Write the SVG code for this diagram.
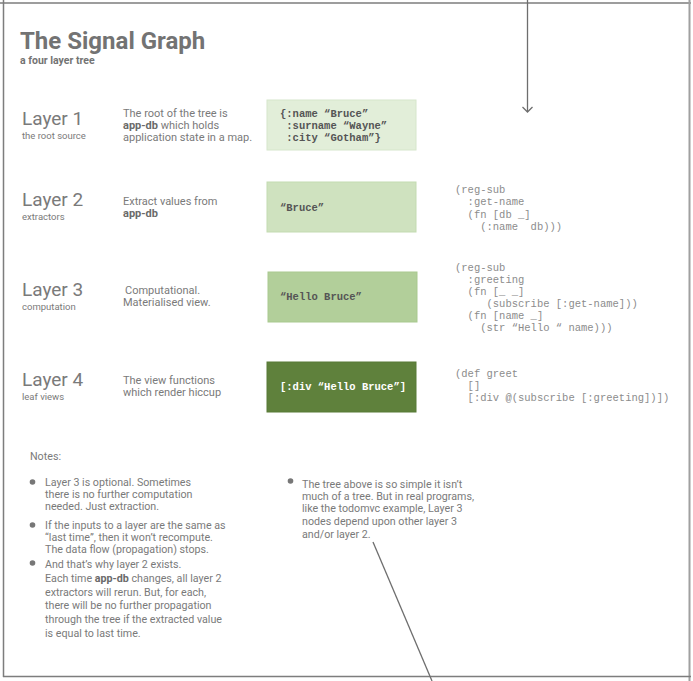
<svg xmlns="http://www.w3.org/2000/svg" width="693" height="681" viewBox="0 0 693 681">
<style>
.t{font-family:Roboto,"Liberation Sans",sans-serif;fill:#7a7a7a}
.title{font-size:24px;font-weight:bold;fill:#737373}
.sub{font-size:10.5px;font-weight:bold;fill:#737373}
.layer{font-size:19px;fill:#7a7a7a}
.lsub{font-size:9.5px}
.desc{font-size:11px}
.note{font-size:10.7px}
.b{font-weight:bold;fill:#6a6a6a}
.code{font-family:"Liberation Mono","Courier New",monospace;font-size:10.5px;font-weight:bold;fill:#555;white-space:pre}
.src{font-family:"Liberation Mono","Courier New",monospace;font-size:10.5px;fill:#8c8c8c;white-space:pre}
.frame{stroke:#7d7d7d;stroke-width:1.5;fill:none}
.conn{stroke:#6e6e6e;stroke-width:1.3;fill:none}
</style>
<defs>
<marker id="chev" markerWidth="12" markerHeight="12" refX="8" refY="6" orient="auto" markerUnits="userSpaceOnUse" viewBox="0 0 12 12">
<path d="M3,1 L8,6 L3,11" fill="none" stroke="#6e6e6e" stroke-width="1.3"/>
</marker>
</defs>
<rect width="693" height="681" fill="#ffffff"/>
<g id="frame">
<line class="frame" x1="0" y1="3" x2="691" y2="3"/>
<line class="frame" x1="3.5" y1="0" x2="3.5" y2="677"/>
<line x1="689.5" y1="0" x2="689.5" y2="681" stroke="#a0a0a0" stroke-width="2"/>
<line class="frame" x1="3" y1="676.5" x2="691" y2="676.5"/>
</g>
<g id="heading">
<text class="t title" x="20" y="49">The Signal Graph</text>
<text class="t sub" x="20" y="64">a four layer tree</text>
</g>
<g id="layer1">
<text class="t layer" x="22" y="125">Layer 1</text>
<text class="t lsub" x="22" y="139">the root source</text>
<text class="t desc" x="123" y="117">The root of the tree is</text>
<text class="t desc" x="123" y="129"><tspan class="b">app-db</tspan> which holds</text>
<text class="t desc" x="123" y="141">application state in a map.</text>
<rect x="267" y="100" width="149" height="50" fill="#e2eed9" stroke="#d6e6cb" stroke-width="1"/>
<text class="code" x="280" y="117">{:name “Bruce”</text>
<text class="code" x="280" y="129"> :surname “Wayne”</text>
<text class="code" x="280" y="141"> :city “Gotham”}</text>
</g>
<g id="layer2">
<text class="t layer" x="22" y="206">Layer 2</text>
<text class="t lsub" x="22" y="220">extractors</text>
<text class="t desc" x="123" y="205">Extract values from</text>
<text class="t desc b" x="123" y="217">app-db</text>
<rect x="267" y="182" width="149" height="50" fill="#cfe2bf" stroke="#c3dbb1" stroke-width="1"/>
<text class="code" x="280" y="211">“Bruce”</text>
<text class="src" x="455" y="193">(reg-sub</text>
<text class="src" x="455" y="205">  :get-name</text>
<text class="src" x="455" y="218">  (fn [db _]</text>
<text class="src" x="455" y="230">    (:name  db)))</text>
</g>
<g id="layer3">
<text class="t layer" x="22" y="296">Layer 3</text>
<text class="t lsub" x="22" y="310">computation</text>
<text class="t desc" x="125" y="294">Computational.</text>
<text class="t desc" x="123" y="306">Materialised view.</text>
<rect x="268" y="272" width="149" height="50" fill="#b2cf9a" stroke="#a9c98f" stroke-width="1"/>
<text class="code" x="280" y="300">“Hello Bruce”</text>
<text class="src" x="455" y="271">(reg-sub</text>
<text class="src" x="455" y="283">  :greeting</text>
<text class="src" x="455" y="295">  (fn [_ _]</text>
<text class="src" x="455" y="307">     (subscribe [:get-name]))</text>
<text class="src" x="455" y="319">  (fn [name _]</text>
<text class="src" x="455" y="331">    (str “Hello “ name)))</text>
</g>
<g id="layer4">
<text class="t layer" x="22" y="386">Layer 4</text>
<text class="t lsub" x="22" y="400">leaf views</text>
<text class="t desc" x="123" y="384">The view functions</text>
<text class="t desc" x="123" y="396">which render hiccup</text>
<rect x="267" y="362" width="149" height="50" fill="#5f813c" stroke="#587a36" stroke-width="1"/>
<text class="code" x="280" y="390" style="fill:#ffffff">[:div “Hello Bruce”]</text>
<text class="src" x="455" y="377">(def greet</text>
<text class="src" x="455" y="389">  []</text>
<text class="src" x="455" y="401">  [:div @(subscribe [:greeting])])</text>
</g>
<g id="notes">
<text class="t note" x="30" y="460">Notes:</text>
<circle cx="32.5" cy="482" r="2.8" fill="#777"/>
<text class="t note" x="45" y="486">Layer 3 is optional. Sometimes</text>
<text class="t note" x="45" y="498">there is no further  computation</text>
<text class="t note" x="45" y="510">needed.  Just extraction.</text>
<circle cx="32.5" cy="525" r="2.8" fill="#777"/>
<text class="t note" x="45" y="529">If the inputs to a layer are the same as</text>
<text class="t note" x="45" y="541">“last time”, then it won’t recompute.</text>
<text class="t note" x="45" y="553">The data flow (propagation) stops.</text>
<circle cx="32.5" cy="563" r="2.8" fill="#777"/>
<text class="t note" x="45" y="568">And that’s why layer 2 exists.</text>
<text class="t note" x="45" y="582">Each time <tspan class="b">app-db</tspan> changes, all layer 2</text>
<text class="t note" x="45" y="596">extractors will rerun.  But, for each,</text>
<text class="t note" x="45" y="609">there will be no further propagation</text>
<text class="t note" x="45" y="623">through the tree if the extracted value</text>
<text class="t note" x="45" y="637">is equal to last time.</text>
<circle cx="290.5" cy="481" r="2.8" fill="#777"/>
<text class="t note" x="302" y="488">The tree above is so simple it isn’t</text>
<text class="t note" x="302" y="500">much of a tree. But in real programs,</text>
<text class="t note" x="302" y="512">like the todomvc example,  Layer 3</text>
<text class="t note" x="302" y="525">nodes depend upon other layer 3</text>
<text class="t note" x="302" y="538">and/or layer 2.</text>
</g>
<g id="connectors">
<line class="conn" x1="527.5" y1="0" x2="527.5" y2="112" marker-end="url(#chev)"/>
<line class="conn" x1="373" y1="542" x2="432" y2="681"/>
</g>
</svg>
